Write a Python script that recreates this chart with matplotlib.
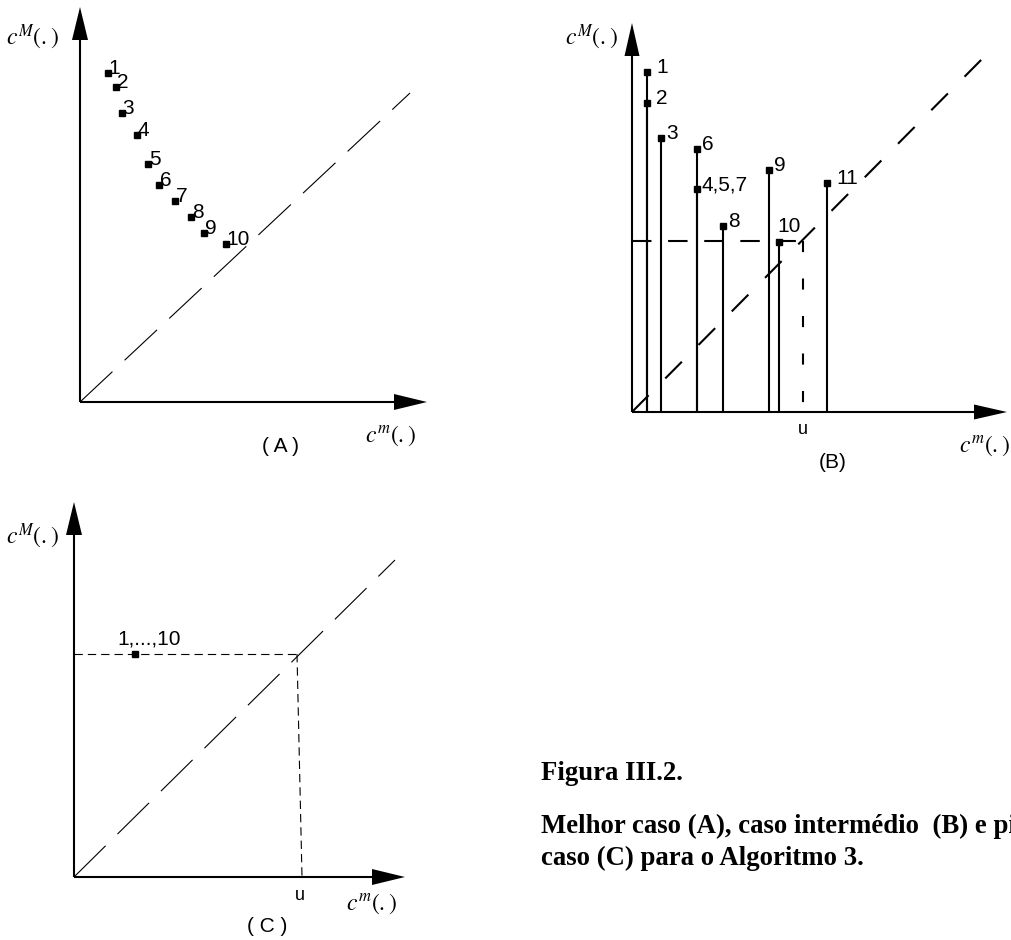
import matplotlib
matplotlib.use("Agg")
import matplotlib.pyplot as plt

# figure in pixels; each panel axes uses 1 data unit = 1 pixel, origin at the axes corner
FIG_W, FIG_H = 1011, 940
DPI = 100

plt.rcParams["font.family"] = ["Liberation Sans", "DejaVu Sans"]
plt.rcParams["mathtext.fontset"] = "stix"
plt.rcParams["lines.scale_dashes"] = False

# ---- panel A: best case, points fall monotonically towards the diagonal
A_ORIGIN = (80, 402)
A_LABELS = ["1", "2", "3", "4", "5", "6", "7", "8", "9", "10"]
A_CM = [28, 36, 42, 57, 68, 79, 95, 111, 124, 146]
A_CMAX = [329, 315, 289, 267, 238, 217, 201, 185, 169, 158]
A_DIAG_END = (330, 309)
A_TIPS = (347, 395)

# ---- panel B: intermediate case, stems with the u threshold
B_ORIGIN = (632, 412)
B_LABELS = ["1", "2", "3", "6", "4,5,7", "8", "9", "10", "11"]
B_CM = [15, 15, 29, 65, 65, 91, 137, 147, 195]
B_CMAX = [340, 309, 274, 263, 223, 186, 242, 170, 229]
B_U = 171
B_DIAG_END = (356, 359)
B_TIPS = (375, 389)

# ---- panel C: worst case, all points coincide
C_ORIGIN = (74, 877)
C_LABEL = "1,...,10"
C_CM = [61]
C_CMAX = [223]
C_U = 223
C_U_FOOT = 228
C_DIAG_END = (321, 317)
C_TIPS = (331, 375)

CAPTION_TITLE = "Figura III.2."
CAPTION_LINES = ["Melhor caso (A), caso intermédio  (B) e pior",
                 "caso (C) para o Algoritmo 3."]

YLABEL = r"$c^{M}\mathit{(.)}$"
XLABEL = r"$c^{m}\mathit{(.)}$"

fig = plt.figure(figsize=(FIG_W / DPI, FIG_H / DPI), dpi=DPI)


def panel(origin, size=420):
    ox, oy = origin
    ax = fig.add_axes([ox / FIG_W, (FIG_H - oy) / FIG_H, size / FIG_W, size / FIG_H])
    ax.set_xlim(0, size)
    ax.set_ylim(0, size)
    ax.axis("off")
    return ax


def arrow_axes(ax, tips, head_len=33, head_w=16, lw=1.5):
    tx, ty = tips
    ax.plot([0, tx - head_len], [0, 0], color="black", lw=lw, clip_on=False,
            solid_capstyle="butt")
    ax.plot([0, 0], [0, ty - head_len], color="black", lw=lw, clip_on=False,
            solid_capstyle="butt")
    h = head_w / 2
    ax.fill([tx, tx - head_len, tx - head_len], [0, h, -h], color="black",
            clip_on=False, lw=0)
    ax.fill([0, h, -h], [ty, ty - head_len, ty - head_len], color="black",
            clip_on=False, lw=0)


def axis_names(ax, ypos, xpos):
    ax.text(*ypos, YLABEL, fontsize=17, ha="center", va="center", clip_on=False)
    ax.text(*xpos, XLABEL, fontsize=17, ha="center", va="center", clip_on=False)


def point_label(ax, text, xy, offset):
    ax.annotate(text, xy, xytext=offset, textcoords="offset points",
                fontsize=15, ha="left", va="center", annotation_clip=False)


# panel A
ax = panel(A_ORIGIN)
arrow_axes(ax, A_TIPS)
ax.plot([0, A_DIAG_END[0]], [0, A_DIAG_END[1]], color="black", lw=0.8,
        dashes=(32, 12), clip_on=False)
ax.plot(A_CM, A_CMAX, "s", color="black", ms=5, clip_on=False)
for lab, x, y in zip(A_LABELS, A_CM, A_CMAX):
    point_label(ax, lab, (x, y), (0.5, 3))
axis_names(ax, (-48, 365), (311, -34))
ax.text(201, -45, "( A )", fontsize=15, ha="center", va="center")

# panel B
ax = panel(B_ORIGIN)
arrow_axes(ax, B_TIPS, head_w=15)
ax.plot([0, B_DIAG_END[0]], [0, B_DIAG_END[1]], color="black", lw=1.5,
        dashes=(17, 17), clip_on=False)
ax.vlines(B_CM, 0, B_CMAX, color="black", lw=1.5, clip_on=False)
ax.plot([0, B_U], [B_U, B_U], color="black", lw=1.5, dashes=(14, 12))
ax.plot([B_U, B_U], [B_U, 0], color="black", lw=1.5, dashes=(8, 19))
ax.plot(B_CM, B_CMAX, "s", color="black", ms=5, clip_on=False)
for lab, x, y in zip(B_LABELS, B_CM, B_CMAX):
    if lab == "10":
        point_label(ax, lab, (x, y), (-1, 11))
    elif lab in ("1", "2", "11"):
        point_label(ax, lab, (x, y), (6.5, 3))
    else:
        point_label(ax, lab, (x, y), (3.5, 3))
axis_names(ax, (-41, 375), (353, -34))
ax.text(201, -51, "(B)", fontsize=15, ha="center", va="center")
ax.text(B_U, -18, "u", fontsize=13, ha="center", va="center")

# panel C
ax = panel(C_ORIGIN)
arrow_axes(ax, C_TIPS)
ax.plot([0, C_DIAG_END[0]], [0, C_DIAG_END[1]], color="black", lw=0.8,
        dashes=(32, 12), clip_on=False)
ax.plot([0, C_U], [C_U, C_U], color="black", lw=0.8, dashes=(6, 3.6))
ax.plot([C_U, C_U_FOOT], [C_U, 0], color="black", lw=0.8, dashes=(6, 3.6))
ax.plot(C_CM, C_CMAX, "s", color="black", ms=5, clip_on=False)
ax.annotate(C_LABEL, (C_CM[0], C_CMAX[0]), xytext=(10, 11),
            textcoords="offset points", fontsize=15, ha="center", va="center")
axis_names(ax, (-42, 341), (298, -27))
ax.text(193, -50, "( C )", fontsize=15, ha="center", va="center")
ax.text(C_U_FOOT - 2, -18, "u", fontsize=13, ha="center", va="center")

# caption (second line runs past the right edge of the page)
cap = dict(fontsize=19.3, fontweight="bold", family="Liberation Serif",
           ha="left", va="center", transform=fig.transFigure)
fig.text(541 / FIG_W, 1 - 773 / FIG_H, CAPTION_TITLE, **cap)
fig.text(541 / FIG_W, 1 - 826 / FIG_H, CAPTION_LINES[0], **cap)
fig.text(541 / FIG_W, 1 - 858 / FIG_H, CAPTION_LINES[1], **cap)

fig.savefig("out.png", dpi=DPI)
